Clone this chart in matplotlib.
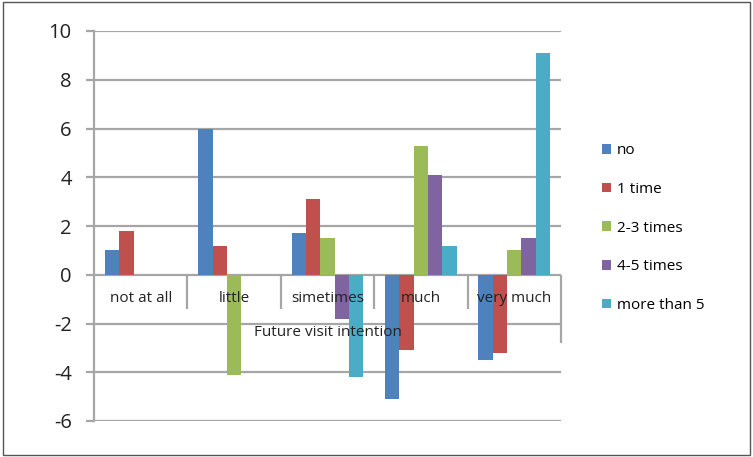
import numpy as np
import matplotlib.pyplot as plt
from matplotlib.patches import Rectangle

plt.rcParams['font.family'] = ['Open Sans', 'DejaVu Sans']

categories = ['not at all', 'little', 'simetimes', 'much', 'very much']
series_names = ['no', '1 time', '2-3 times', '4-5 times', 'more than 5']
no_vals = [1.0, 6.0, 1.7, -5.1, -3.5]
one_time = [1.8, 1.2, 3.1, -3.1, -3.2]
two_three = [0.0, -4.1, 1.5, 5.3, 1.0]
four_five = [0.0, 0.0, -1.8, 4.1, 1.5]
more_than_5 = [0.0, 0.0, -4.2, 1.2, 9.1]
y_ticks = [-6, -4, -2, 0, 2, 4, 6, 8, 10]

colors = ['#4F81BD', '#C0504D', '#9BBB59', '#8064A2', '#4BACC6']
grid_col = '#A6A6A6'

fig = plt.figure(figsize=(7.53, 4.57), dpi=100)
ax = fig.add_axes([94 / 753, 1 - 421 / 457, (561 - 94) / 753, (421 - 31) / 457])

x = np.arange(len(categories))
w = 0.154
all_series = [no_vals, one_time, two_three, four_five, more_than_5]
for i, (vals, name, c) in enumerate(zip(all_series, series_names, colors)):
    ax.bar(x + (i - 2) * w, vals, width=w, color=c, label=name, zorder=3)

ax.set_xlim(-0.5, 4.5)
ax.set_ylim(-6, 10)
ax.set_yticks(y_ticks)
ax.set_yticklabels([str(t) for t in y_ticks], fontsize=14.5, color='#222222')
for t in y_ticks:
    ax.axhline(t, color=grid_col, lw=1.6, zorder=1)
ax.set_xticks([])
for s in ['top', 'right', 'bottom']:
    ax.spines[s].set_visible(False)
ax.spines['left'].set_color(grid_col)
ax.spines['left'].set_linewidth(1.6)
ax.tick_params(axis='y', length=6, width=1.6, color=grid_col, pad=10)

# category separators hanging from the zero line
for b in np.arange(0.5, 4.0, 1.0):
    ax.vlines(b, -1.4, 0, color=grid_col, lw=1.6, zorder=2)
ax.vlines(4.5, -2.8, 0, color=grid_col, lw=1.6, zorder=2, clip_on=False)

for xi, lab in zip(x, categories):
    ax.text(xi, -0.98, lab, ha='center', va='center', fontsize=11, color='#222222', zorder=4)
ax.text(2.0, -2.38, 'Future visit intention', ha='center', va='center',
        fontsize=11, color='#222222', zorder=4)

ax.legend(loc='center left', bbox_to_anchor=(588 / 753, 1 - 228 / 457),
          bbox_transform=fig.transFigure, frameon=False, fontsize=11,
          handlelength=0.6, handleheight=0.6, handletextpad=0.4, labelspacing=1.55)

fig.patches.append(Rectangle((3 / 753, 2 / 457), 747 / 753, 453 / 457,
                             transform=fig.transFigure, fill=False,
                             edgecolor='#555555', lw=1))

fig.savefig('out.png', dpi=100)
